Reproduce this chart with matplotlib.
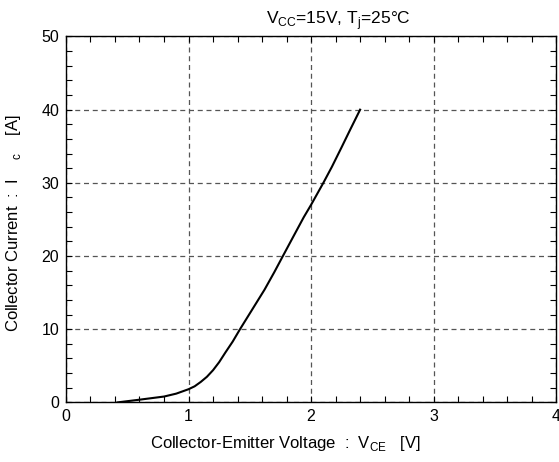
import numpy as np
import matplotlib.pyplot as plt
from matplotlib.ticker import MultipleLocator

plt.rcParams['font.family'] = ['Liberation Sans', 'DejaVu Sans']
plt.rcParams['mathtext.fontset'] = 'custom'
plt.rcParams['mathtext.rm'] = 'Liberation Sans'

# 读取的曲线数据 (VCE [V], IC [A])
vce = [0.42, 0.6, 0.8, 0.9, 1.0, 1.05, 1.1, 1.15, 1.2, 1.25, 1.3, 1.36, 1.42,
       1.52, 1.62, 1.7, 1.77, 1.85, 1.94, 2.0, 2.1, 2.17, 2.25, 2.32, 2.4]
ic = [0.0, 0.37, 0.8, 1.2, 1.8, 2.2, 2.8, 3.5, 4.4, 5.5, 6.8, 8.3, 10.0,
      12.7, 15.4, 17.8, 20.0, 22.5, 25.3, 27.0, 30.0, 32.2, 34.9, 37.3, 40.0]

x_ticks = [0, 1, 2, 3, 4]
y_ticks = [0, 10, 20, 30, 40, 50]

fig = plt.figure(figsize=(5.59, 4.62), dpi=100)
ax = fig.add_axes([0.118, 0.129, 0.877, 0.792])

ax.plot(vce, ic, c='black', lw=1.5)

ax.set_xlim(0, 4)
ax.set_ylim(0, 50)
ax.set_xticks(x_ticks)
ax.set_yticks(y_ticks)
ax.xaxis.set_minor_locator(MultipleLocator(0.2))
ax.yaxis.set_minor_locator(MultipleLocator(2))
ax.tick_params(which='both', direction='in', top=True, right=True,
               length=4, width=0.8, labelsize=11.5, pad=5)
ax.grid(which='major', linestyle=(0, (4, 3)), color='#555555', lw=0.9)

for s in ax.spines.values():
    s.set_linewidth(1.0)

ax.text(0.555, 1.012, r'V$_\mathregular{CC}$=15V, T$_\mathregular{j}$=25°C',
        transform=ax.transAxes, ha='center', va='bottom', fontsize=12.5)
ax.set_xlabel(r'Collector-Emitter Voltage  :  V$_\mathregular{CE}$   [V]', fontsize=12)
ax.xaxis.set_label_coords(0.447, -0.085)
ax.set_ylabel(r'Collector Current  :  I    $_\mathregular{c}$    [A]', fontsize=12)
ax.yaxis.set_label_coords(-0.088, 0.49)

plt.savefig('out.png', dpi=100)
